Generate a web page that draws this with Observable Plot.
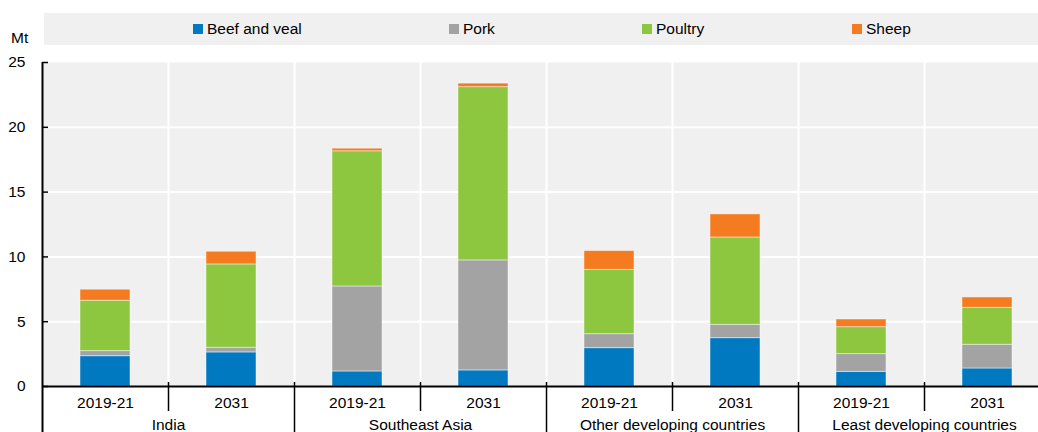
<!DOCTYPE html>
<html><head><meta charset="utf-8">
<script src="https://cdn.jsdelivr.net/npm/d3@7"></script>
<script src="https://cdn.jsdelivr.net/npm/@observablehq/plot@0.6"></script>
<style>
body{margin:0;overflow:hidden;background:#fff;font-family:"Liberation Sans",Arial,sans-serif;color:#000;}
#head{position:relative;height:50px;width:1038px;}
#mt{position:absolute;left:11px;top:29px;font-size:15.5px;}
#legend{position:absolute;left:44px;top:13px;width:994px;height:32px;background:#f0f0f0;}
.item{position:absolute;top:0;height:32px;display:flex;align-items:center;font-size:15.5px;white-space:nowrap;}
.sw{width:10px;height:10px;margin-right:4px;}
#chart{width:1050px;}
#chart svg{display:block;max-width:none !important;}
</style></head><body>
<div id="head"><div id="mt">Mt</div><div id="legend"></div></div>
<div id="chart"></div>
<script>
const regions = ["India", "Southeast Asia", "Other developing countries", "Least developing countries"];
const periods = ["2019-21", "2031"];
const meats = ["Beef and veal", "Pork", "Poultry", "Sheep"];
const colors = ["#0079c1", "#a3a3a3", "#8dc63f", "#f47b20"];
// values per bar: India 2019-21, India 2031, SEA 2019-21, SEA 2031, Other 2019-21, Other 2031, Least 2019-21, Least 2031
const beef    = [2.34, 2.63, 1.16, 1.24, 2.96, 3.73, 1.13, 1.39];
const pork    = [0.39, 0.36, 6.56, 8.49, 1.08, 1.03, 1.37, 1.83];
const poultry = [3.89, 6.43, 10.43, 13.37, 4.96, 6.74, 2.08, 2.85];
const sheep   = [0.85, 0.98, 0.20, 0.27, 1.45, 1.78, 0.59, 0.80];
const yTicks = [0, 5, 10, 15, 20, 25];
const yDomain = [0, 25];

const keys = regions.flatMap(r => periods.map(p => r + "|" + p));
const series = [beef, pork, poultry, sheep];
const rows = [];
keys.forEach((k, i) => meats.forEach((m, j) => rows.push({key: k, meat: m, value: series[j][i]})));

// legend (HTML)
const legendLeft = [149, 405, 598, 808];
const lg = document.getElementById("legend");
meats.forEach((m, i) => {
  const d = document.createElement("div");
  d.className = "item";
  d.style.left = legendLeft[i] + "px";
  d.innerHTML = `<span class="sw" style="background:${colors[i]}"></span><span>${m}</span>`;
  lg.appendChild(d);
});

const W = 1050, H = 382, ML = 42, MR = 0, MT = 12, MB = 46;
const step = (W - ML - MR) / keys.length;
const frameH = H - MT - MB;
const firstKeys = regions.map(r => r + "|" + periods[0]);
const secondKeys = regions.map(r => r + "|" + periods[1]);

const plot = Plot.plot({
  width: W, height: H,
  marginLeft: ML, marginRight: MR, marginTop: MT, marginBottom: MB,
  style: {fontFamily: "'Liberation Sans', Arial, sans-serif", fontSize: "15.5px", color: "#000", background: "transparent", overflow: "visible", maxWidth: "none"},
  x: {domain: keys, paddingInner: 0.6, paddingOuter: 0.3, axis: null, label: null},
  y: {domain: yDomain, axis: null, label: null},
  color: {domain: meats, range: colors},
  marks: [
    Plot.frame({fill: "#f0f0f0", stroke: null}),
    Plot.ruleY(yTicks.filter(t => t > 0 && t < 25), {y: d => d, stroke: "#fff", strokeWidth: 2}),
    Plot.ruleX(keys.slice(1), {x: d => d, dx: -step / 2, stroke: "#fff", strokeWidth: 2}),
    Plot.barY(rows, {x: "key", y: "value", fill: "meat", stroke: "#fff", strokeOpacity: 0.45, strokeWidth: 1}),
    Plot.axisY({ticks: yTicks, tickSize: 0, tickPadding: 17, fontSize: 15.5, label: null}),
    Plot.axisY({ticks: yTicks, tickSize: 6, dx: 6, text: null, strokeWidth: 1.5, label: null}),
    Plot.ruleX([keys[0]], {x: d => d, dx: -step / 2, insetBottom: -60, stroke: "#000", strokeWidth: 2}),
    Plot.ruleY([0], {y: d => d, stroke: "#000", strokeWidth: 2}),
    Plot.ruleX(secondKeys, {x: d => d, dx: -step / 2, insetTop: frameH - 4, insetBottom: -25, stroke: "#000", strokeWidth: 1.5}),
    Plot.ruleX(firstKeys.slice(1), {x: d => d, dx: -step / 2, insetTop: frameH - 4, insetBottom: -60, stroke: "#000", strokeWidth: 1.5}),
    Plot.axisX({tickSize: 0, tickPadding: 10, tickFormat: d => d.split("|")[1], fontSize: 15.5, label: null}),
    Plot.text(regions, {x: r => r + "|" + periods[1], dx: -step / 2, frameAnchor: "bottom", lineAnchor: "top", dy: 32, text: d => d, fontSize: 15.5})
  ]
});
document.getElementById("chart").appendChild(plot);
</script>
</body></html>
